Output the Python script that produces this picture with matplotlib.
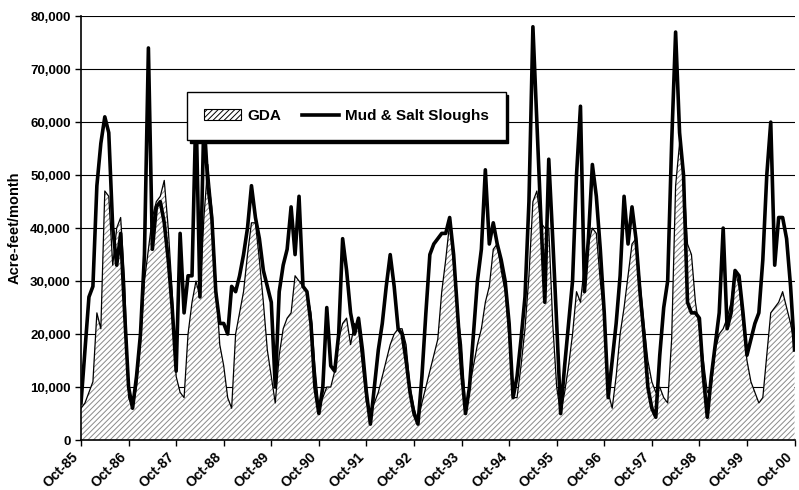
import matplotlib
matplotlib.use("Agg")
import matplotlib.pyplot as plt
import matplotlib.transforms as mtransforms
from matplotlib.patches import Patch
from matplotlib.lines import Line2D
from matplotlib.ticker import FuncFormatter
import numpy as np

# monthly flows, acre-feet/month (thousands), Oct-85 .. Oct-00
gda_k = (
    [6, 7, 9, 11, 24, 21, 47, 46, 33, 40, 42, 30]
    + [8, 6, 10, 18, 30, 36, 42, 45, 46, 49, 40, 28]
    + [12, 9, 8, 20, 26, 30, 27, 42, 52, 44, 30, 18]
    + [14, 8, 6, 20, 24, 28, 35, 41, 41, 34, 26, 17]
    + [12, 7, 16, 21, 23, 24, 31, 30, 29, 28, 24, 14]
    + [6, 8, 10, 10, 13, 19, 22, 23, 18, 22, 21, 14]
    + [7, 5, 7, 9, 12, 15, 18, 20, 21, 21, 18, 10]
    + [6, 3.5, 7, 10, 13, 16, 19, 28, 34, 41, 33, 24]
    + [18, 6, 10, 14, 18, 21, 26, 29, 36, 37, 32, 28]
    + [19, 8, 8, 14, 21, 31, 45, 47, 41, 40, 40, 22]
    + [10, 5, 9, 14, 20, 28, 26, 33, 37, 40, 39, 30]
    + [23, 9, 6, 12, 20, 25, 31, 37, 38, 30, 22, 15]
    + [11, 9, 10, 8, 7, 19, 48, 56, 50, 37, 35, 26]
    + [21, 15, 9, 10, 17, 20, 21, 23, 26, 32, 29, 22]
    + [15, 11, 9, 7, 8, 16, 24, 25, 26, 28, 25, 22, 18]
)
mud_k = (
    [7, 17, 27, 29, 48, 56, 61, 58, 40, 33, 39, 24]
    + [10, 6, 12, 20, 35, 74, 36, 44, 45, 41, 34, 25]
    + [13, 39, 24, 31, 31, 63, 27, 61, 48, 42, 28, 22]
    + [22, 20, 29, 28, 31, 35, 40, 48, 42, 38, 32, 29]
    + [26, 10, 28, 33, 36, 44, 35, 46, 29, 28, 22, 10]
    + [5, 10, 25, 14, 13, 20, 38, 32, 24, 20, 23, 17]
    + [9, 3, 10, 17, 22, 29, 35, 29, 21, 20, 15, 9]
    + [5, 3, 12, 24, 35, 37, 38, 39, 39, 42, 35, 24]
    + [13, 5, 10, 20, 30, 36, 51, 37, 41, 37, 34, 30]
    + [22, 8, 12, 19, 27, 45, 78, 60, 42, 26, 53, 38]
    + [22, 5, 14, 22, 30, 50, 63, 28, 38, 52, 46, 36]
    + [24, 8, 15, 22, 31, 46, 37, 44, 38, 28, 20, 10]
    + [6, 4.3, 16, 25, 30, 56, 77, 58, 50, 26, 24, 24]
    + [23, 12, 4.3, 12, 18, 24, 40, 21, 24, 32, 31, 24]
    + [16, 19, 22, 24, 34, 50, 60, 33, 42, 42, 38, 29, 17]
)
year_labels = ["Oct-85", "Oct-86", "Oct-87", "Oct-88", "Oct-89", "Oct-90",
               "Oct-91", "Oct-92", "Oct-93", "Oct-94", "Oct-95", "Oct-96",
               "Oct-97", "Oct-98", "Oct-99", "Oct-00"]

gda = np.array(gda_k) * 1000
mud = np.array(mud_k) * 1000
months = np.arange(len(gda))
year_ticks = np.arange(0, len(gda), 12)

plt.rcParams["font.family"] = ["Liberation Sans", "DejaVu Sans"]
plt.rcParams["font.weight"] = "bold"
plt.rcParams["hatch.color"] = "#8a8a8a"
plt.rcParams["hatch.linewidth"] = 0.7

fig = plt.figure(figsize=(7.99, 4.90), dpi=100)
ax = fig.add_axes([0.1014, 0.102, 0.893, 0.865])

ax.fill_between(months, 0, gda, facecolor="white", edgecolor="#8a8a8a",
                hatch="//////", linewidth=0, zorder=2)
ax.plot(months, gda, color="black", linewidth=0.9, zorder=3)
ax.plot(months, mud, color="black", linewidth=2.6, zorder=4)

ax.set_xlim(0, 180)
ax.set_ylim(0, 80000)
ax.set_yticks(np.arange(0, 80001, 10000))
ax.yaxis.set_major_formatter(FuncFormatter(lambda v, p: f"{int(v):,}"))
ax.set_xticks(year_ticks)
ax.tick_params(axis="x", labelbottom=False)
ax.tick_params(axis="y", labelsize=9.5)
ax.tick_params(axis="both", direction="out", length=4, width=1)

# rotated year labels, placed just below-left of each tick
shift = mtransforms.ScaledTranslation(-4.5 / 100, -14.5 / 100, fig.dpi_scale_trans)
trans = ax.get_xaxis_transform() + shift
for pos, lab in zip(year_ticks, year_labels):
    ax.text(pos, 0, lab, transform=trans, rotation=45, rotation_mode="anchor",
            ha="right", va="center", fontsize=10, fontweight="bold", clip_on=False)

ax.grid(axis="y", color="black", linewidth=0.8, zorder=1)
ax.set_axisbelow(True)
for side in ["top", "right"]:
    ax.spines[side].set_visible(False)
ax.spines["left"].set_linewidth(1.2)
ax.spines["bottom"].set_linewidth(1.2)

ax.set_ylabel("Acre-feet/month", fontsize=10.5, fontweight="bold", labelpad=6)

handles = [Patch(facecolor="white", edgecolor="black", hatch="//////", linewidth=0.8),
           Line2D([], [], color="black", linewidth=2.6)]
leg = fig.legend(handles, ["GDA", "Mud & Salt Sloughs"], ncol=2,
                 loc="center", bbox_to_anchor=(0.4337, 0.763),
                 fancybox=False, framealpha=1, edgecolor="black",
                 shadow={"color": "black", "alpha": 1},
                 prop={"size": 11, "weight": "bold"},
                 borderpad=1.1, handlelength=2.4, columnspacing=1.4,
                 handletextpad=0.4)
leg.get_frame().set_linewidth(1.0)

fig.savefig("out.png", dpi=100)
plt.close(fig)
